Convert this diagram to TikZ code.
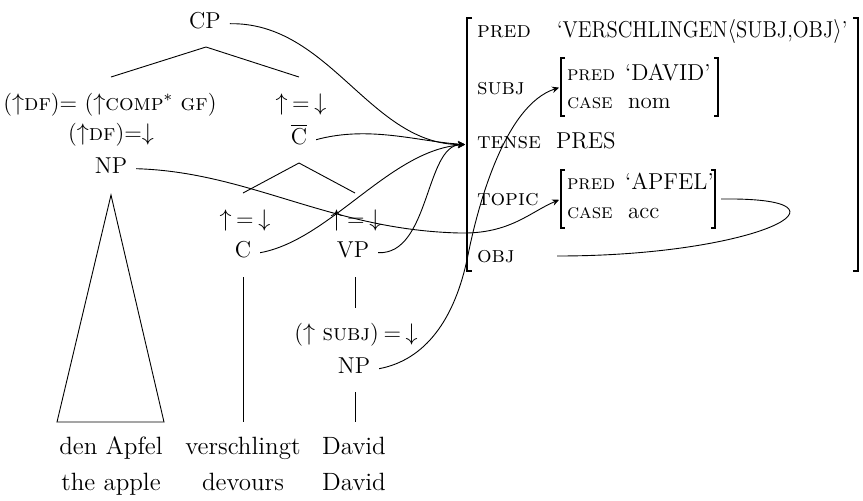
\documentclass[tikz,border=0pt]{standalone}
\usepackage{graphicx}
\usetikzlibrary{arrows.meta}
\newcommand{\hdeq}{\(\uparrow\)\hspace{0.2em}=\hspace{0.2em}\(\downarrow\)}
\begin{document}
\begin{tikzpicture}[x=0.5pt,y=-0.5pt,
  every node/.style={font=\fontsize{11.5}{13.8}\selectfont, inner sep=0pt, outer sep=0pt},
  cat/.style={anchor=base, inner xsep=4.5pt},
  ann/.style={anchor=base},
  word/.style={anchor=base, font=\fontsize{12.5}{15}\selectfont},
  attr/.style={anchor=base west},
  iattr/.style={anchor=base west, font=\fontsize{10.3}{12}\selectfont},
  val/.style={anchor=base west},
  fsbox/.style={rectangle, draw=none},
  outerbr/.style={line width=0.9pt},
  br/.style={line width=0.6pt},
  tree/.style={line width=0.45pt},
  link/.style={line width=0.45pt, -{Stealth[length=3.5pt,width=3.2pt]}, shorten >=1pt},
  plainlink/.style={line width=0.45pt}]
\useasboundingbox (0,0) rectangle (863,500);

% ---- c-structure ----
\node[cat] (cp) at (205,28) {CP};
\node[ann] (dfa) at (110,110) {(\(\uparrow\)\textsc{df})= (\(\uparrow\)\textsc{comp}\(^*\) \textsc{gf})};
\node[ann] (dfb) at (111,140) {(\(\uparrow\)\textsc{df})=\(\downarrow\)};
\node[cat] (np1) at (111,173) {NP};
\node[ann] (hd1) at (301,110) {\hdeq};
\node[cat] (cbar) at (299,144) {\(\overline{\mbox{C}}\)};
\node[ann] (hd2) at (245,226) {\hdeq};
\node[cat] (c) at (243,257) {C};
\node[ann] (hd3) at (356,226) {\hdeq};
\node[cat] (vp) at (353,257) {VP};
\node[ann] (subjann) at (356,340) {(\(\uparrow\) \textsc{subj})\hspace{0.2em}=\hspace{0.2em}\(\downarrow\)};
\node[cat] (np2) at (354,373) {NP};

\node[word] (w1) at (111,454) {den Apfel};
\node[word] (w2) at (243,454) {verschlingt};
\node[word] (w3) at (354,454) {David};
\node[word] (g1) at (111,490) {the apple};
\node[word] (g2) at (243,490) {devours};
\node[word] (g3) at (354,490) {David};

\coordinate (cpf) at (206,47);
\coordinate (dfTop) at (111,77);
\coordinate (cbTop) at (299,77);
\coordinate (cbf) at (299,163);
\coordinate (cTop) at (243,193);
\coordinate (vpTop) at (355,193);
\coordinate (cBot) at (243,277);
\coordinate (vBot) at (243,422);
\coordinate (vpBot) at (355,277);
\coordinate (subjTop) at (355,308);
\coordinate (npBot) at (355,392);
\coordinate (davidTop) at (355,422);

\draw[tree] (dfTop) -- (cpf) -- (cbTop);
\draw[tree] (cTop) -- (cbf) -- (vpTop);
\draw[tree] (cBot) -- (vBot);
\draw[tree] (vpBot) -- (subjTop);
\draw[tree] (npBot) -- (davidTop);
\draw[tree] (111,195) -- (57,422) -- (164,422) -- cycle;

% ---- f-structure ----
\node[fsbox, minimum width=195.5pt, minimum height=126.5pt] (fs) at (662.5,144.5) {};
\draw[outerbr] ([xshift=2.5pt]fs.north west) -- (fs.north west) -- (fs.south west) -- ([xshift=2.5pt]fs.south west);
\draw[br] ([xshift=-2.5pt]fs.north east) -- (fs.north east) -- (fs.south east) -- ([xshift=-2.5pt]fs.south east);

\node[attr] (apred) at (477,37) {\textsc{pred}};
\node[val] (vpred) at (557,37) {\scalebox{0.9}[1]{‘VERSCHLINGEN\(\langle\)SUBJ,OBJ\(\rangle\)’}};

\node[attr] (asubj) at (477,94) {\textsc{subj}};
\node[fsbox, minimum width=78.5pt, minimum height=29pt] (subjfs) at (639.5,87) {};
\draw[br] ([xshift=2pt]subjfs.north west) -- (subjfs.north west) -- (subjfs.south west) -- ([xshift=2pt]subjfs.south west);
\draw[br] ([xshift=-2pt]subjfs.north east) -- (subjfs.north east) -- (subjfs.south east) -- ([xshift=-2pt]subjfs.south east);
\node[iattr] (spred) at (567,80) {\textsc{pred}};
\node[val] (sval) at (625,80) {‘DAVID’};
\node[iattr] (scase) at (567,108) {\textsc{case}};
\node[val] (scval) at (628,108) {nom};

\node[attr] (atense) at (477,148) {\textsc{tense}};
\node[val] (vtense) at (556,148) {PRES};

\node[attr] (atopic) at (477,205) {\textsc{topic}};
\node[fsbox, minimum width=77pt, minimum height=29pt] (topicfs) at (638,199) {};
\draw[br] ([xshift=2pt]topicfs.north west) -- (topicfs.north west) -- (topicfs.south west) -- ([xshift=2pt]topicfs.south west);
\draw[br] ([xshift=-2pt]topicfs.north east) -- (topicfs.north east) -- (topicfs.south east) -- ([xshift=-2pt]topicfs.south east);
\node[iattr] (tpred) at (567,189) {\textsc{pred}};
\node[val] (tval) at (625,189) {‘APFEL’};
\node[iattr] (tcase) at (567,218) {\textsc{case}};
\node[val] (tcval) at (628,218) {acc};

\node[attr] (aobj) at (477,262) {\textsc{obj}};
\coordinate (objval) at (557,256);

% ---- links ----
\draw[link] (cp.mid east) .. controls (330,22) and (370,145) .. (fs.west);
\draw[link] (cbar.mid east) .. controls (370,125) and (420,142) .. (fs.west);
\draw[link] (c.mid east) .. controls (330,240) and (390,150) .. (fs.west);
\draw[link] (vp.mid east) .. controls (430,255) and (425,145) .. (fs.west);
\draw[link] (np1.mid east) .. controls (250,172) and (330,230) .. (460,233) .. controls (510,234) and (530,212) .. (topicfs.west);
\draw[link] (np2.mid east) .. controls (425,360) and (455,320) .. (468,255) .. controls (478,205) and (505,105) .. (subjfs.west);
\draw[plainlink] ([xshift=3pt]topicfs.east) .. controls (870,197) and (760,256) .. (objval);
\end{tikzpicture}
\end{document}
